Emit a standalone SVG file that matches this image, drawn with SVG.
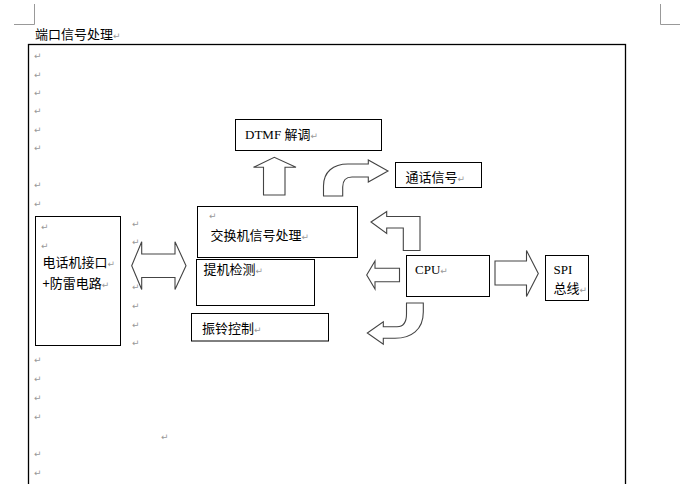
<svg xmlns="http://www.w3.org/2000/svg" width="680" height="484" viewBox="0 0 680 484">
<style>
.box{fill:#fff;stroke:#000;stroke-width:1}
.arr{fill:#fff;stroke:#444;stroke-width:1.1;stroke-linejoin:miter}
.cn{font-family:"Noto Sans CJK SC","Liberation Sans",sans-serif;font-size:13px;fill:#000}
.lt{font-family:"Liberation Serif","Noto Sans CJK SC",serif;font-size:13px;fill:#000}
.rm{font-family:"DejaVu Sans",sans-serif;font-size:9px;fill:#999}
.crop{fill:none;stroke:#999;stroke-width:1}
</style>
<rect width="680" height="484" fill="#fff"/>
<g id="crop-marks">
<path class="crop" d="M34.5,4 V24.5 H14"/>
<path class="crop" d="M660.5,4 V24.5 H680"/>
</g>
<g id="title">
<text class="cn" x="35" y="39">端口信号处理<tspan class="rm">↵</tspan></text>
</g>
<g id="frame">
<rect x="28.5" y="44.5" width="597" height="470" fill="none" stroke="#000" stroke-width="1.3"/>
</g>
<g id="return-marks" class="rm">
<text x="34" y="59">↵</text>
<text x="34" y="78">↵</text>
<text x="34" y="96">↵</text>
<text x="34" y="114">↵</text>
<text x="34" y="133">↵</text>
<text x="34" y="151">↵</text>
<text x="34" y="188">↵</text>
<text x="34" y="207">↵</text>
<text x="34" y="363">↵</text>
<text x="34" y="382">↵</text>
<text x="34" y="401">↵</text>
<text x="34" y="420">↵</text>
<text x="34" y="457">↵</text>
<text x="34" y="476">↵</text>
<text x="161" y="440">↵</text>
<text x="132" y="227">↵</text>
<text x="132" y="245">↵</text>
<text x="132" y="290">↵</text>
<text x="132" y="309">↵</text>
<text x="132" y="328">↵</text>
<text x="132" y="346">↵</text>
</g>
<g id="connectors">
<path id="arr-phone" class="arr" d="M131.7,265.7 L141.7,241.7 L141.7,254 L175,254 L175,241.7 L186,265.7 L175,289.5 L175,277.5 L141.7,277.5 L141.7,289.5 Z"/>
<path id="arr-dtmf" class="arr" d="M263.5,195 L263.5,167.3 L253.5,167.3 L274.3,157.3 L296,167.3 L285,167.3 L285,195 Z"/>
<path id="arr-talk" class="arr" d="M323.5,196 L323.5,186 C323.5,172 333,164 348,164 L368.3,164 L368.3,160 L388,171 L368.3,182 L368.3,177 L352,177 C346,177 342.7,180 342.7,187 L342.7,196 Z"/>
<path id="arr-cpu-switch" class="arr" d="M371,222 L386.7,211.5 L386.7,216.5 L420,216.5 L420,250.5 L403.3,250.5 L403.3,228 L386.7,228 L386.7,233.5 Z"/>
<path id="arr-cpu-hook" class="arr" d="M366.7,275 L375,261 L375,268.3 L399.5,268.3 L399.5,281.7 L375,281.7 L375,289 Z"/>
<path id="arr-cpu-ring" class="arr" d="M406.5,303 L423.3,303 L423.3,312 C423.3,330 411,338.3 395,338.3 L383.3,338.3 L383.3,344.3 L367.3,333 L383.3,321.7 L383.3,326.7 L397,326.7 C403,326.7 406.5,322 406.5,314 Z"/>
<path id="arr-spi" class="arr" d="M495,261 L526.5,261 L526.5,250.5 L538.3,273.5 L526.5,296.5 L526.5,285 L495,285 Z"/>
</g>
<g id="node-phone">
<rect class="box" x="35.5" y="216.5" width="85" height="129"/>
<text class="rm" x="41" y="230">↵</text>
<text class="rm" x="41" y="249">↵</text>
<text class="cn" x="42.5" y="266.5">电话机接口<tspan class="rm">↵</tspan></text>
<text class="cn" x="42.5" y="287.5">+防雷电路<tspan class="rm">↵</tspan></text>
</g>
<g id="node-dtmf">
<rect class="box" x="235.5" y="119.5" width="146" height="31"/>
<text class="lt" x="245" y="139">DTMF <tspan class="cn">解调</tspan><tspan class="rm">↵</tspan></text>
</g>
<g id="node-talk">
<rect class="box" x="395.5" y="162.5" width="86" height="25"/>
<text class="cn" x="405.5" y="181.5">通话信号<tspan class="rm">↵</tspan></text>
</g>
<g id="node-switch">
<rect class="box" x="197.5" y="206.5" width="160" height="51"/>
<text class="rm" x="209" y="219">↵</text>
<text class="cn" x="210.5" y="240">交换机信号处理<tspan class="rm">↵</tspan></text>
</g>
<g id="node-hook">
<rect class="box" x="196.5" y="259.5" width="118" height="46"/>
<text class="cn" x="203.5" y="274">提机检测<tspan class="rm">↵</tspan></text>
</g>
<g id="node-ring">
<rect class="box" x="191.5" y="313.5" width="137" height="27.5"/>
<text class="cn" x="202" y="332.5">振铃控制<tspan class="rm">↵</tspan></text>
</g>
<g id="node-cpu">
<rect class="box" x="406.5" y="255.5" width="83" height="41"/>
<text class="lt" x="415" y="274">CPU<tspan class="rm">↵</tspan></text>
</g>
<g id="node-spi">
<rect class="box" x="545.5" y="255.5" width="43" height="45"/>
<text class="lt" x="553.5" y="274">SPI</text>
<text class="cn" x="553.5" y="293">总线<tspan class="rm">↵</tspan></text>
</g>
</svg>
